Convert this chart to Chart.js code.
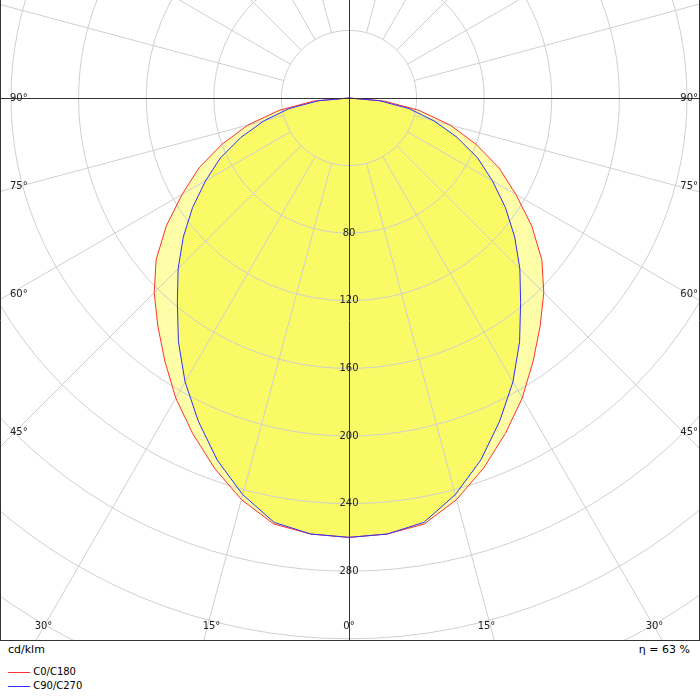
<!DOCTYPE html>
<html><head><meta charset="utf-8">
<script src="https://cdn.jsdelivr.net/npm/chart.js@4.4.0/dist/chart.umd.min.js"></script>
<style>
body{margin:0;background:#fff;font-family:"DejaVu Sans",sans-serif;font-size:10px;color:#000}
#wrap{position:relative;width:700px;height:641px}
.t{position:absolute}
</style></head><body>
<div id="wrap"><canvas id="c" width="700" height="641"></canvas></div>
<div class="t" style="left:8px;top:643px;font-size:11px">cd/klm</div>
<div class="t" style="right:10px;top:643px;font-size:11px">η = 63 %</div>
<div class="t" style="left:8px;top:666px"><span style="display:inline-block;width:22px;border-top:1px solid #ff3030;vertical-align:middle"></span> C0/C180</div>
<div class="t" style="left:8px;top:680px"><span style="display:inline-block;width:22px;border-top:1px solid #3030ff;vertical-align:middle"></span> C90/C270</div>
<script>
// gamma angles (0 = straight down) and intensities in cd/klm
const angles = [0,5,10,15,20,25,30,35,40,45,50,55,60,65,70,75,80,85,90];
const c0 = [260,259,256,246,233,219,205,190,176,163,149,132,114,98,80,62,42,21,0];
const c90 = [260,259,255,243,228,211,194,176,158,143,128,113,98,84,68,52,36,18,0];
const ringValues = [40,80,120,160,200,240,280,320,360,400,440];
const ringLabels = [80,120,160,200,240,280];
const sideLabels = [90,75,60,45];
const bottomLabels = [30,15,0];

const PX = 1.69; // pixels per cd/klm
const toXY = (vals) => {
  const pts = [];
  for (let i = angles.length - 1; i >= 0; i--) {
    const a = -angles[i] * Math.PI / 180;
    pts.push({x: vals[i] * Math.sin(a), y: -vals[i] * Math.cos(a)});
  }
  for (let i = 1; i < angles.length; i++) {
    const a = angles[i] * Math.PI / 180;
    pts.push({x: vals[i] * Math.sin(a), y: -vals[i] * Math.cos(a)});
  }
  return pts;
};

const polarGrid = {
  id: 'polarGrid',
  beforeDatasetsDraw(chart) {
    const {ctx, scales: {x, y}} = chart;
    const cx = x.getPixelForValue(0), cy = y.getPixelForValue(0);
    const fillPoly = (pts, col) => {
      ctx.beginPath();
      pts.forEach((p, i) => {
        const px = x.getPixelForValue(p.x), py = y.getPixelForValue(p.y);
        i ? ctx.lineTo(px, py) : ctx.moveTo(px, py);
      });
      ctx.closePath();
      ctx.fillStyle = col;
      ctx.fill();
    };
    ctx.save();
    fillPoly(chart.data.datasets[1].data, '#fefea8');
    fillPoly(chart.data.datasets[0].data, '#fafa66');
    ctx.strokeStyle = '#cfcfcf';
    ctx.lineWidth = 1;
    ringValues.forEach(v => {
      const r = x.getPixelForValue(v) - cx;
      ctx.beginPath(); ctx.arc(cx, cy, r, 0, Math.PI * 2); ctx.stroke();
    });
    const r0 = x.getPixelForValue(40) - cx;
    for (let a = 0; a < 360; a += 15) {
      if (a % 90 === 0) continue;
      const t = a * Math.PI / 180;
      ctx.beginPath();
      ctx.moveTo(cx + r0 * Math.sin(t), cy + r0 * Math.cos(t));
      ctx.lineTo(cx + 1200 * Math.sin(t), cy + 1200 * Math.cos(t));
      ctx.stroke();
    }
    ctx.restore();
  },
  afterDatasetsDraw(chart) {
    const {ctx, chartArea: ca, scales: {x, y}} = chart;
    const cx = x.getPixelForValue(0), cy = y.getPixelForValue(0);
    ctx.save();
    ctx.strokeStyle = '#333';
    ctx.lineWidth = 1;
    ctx.beginPath();
    ctx.moveTo(ca.left, Math.round(cy) + 0.5); ctx.lineTo(ca.right, Math.round(cy) + 0.5);
    ctx.moveTo(Math.round(cx) + 0.5, ca.top); ctx.lineTo(Math.round(cx) + 0.5, ca.bottom);
    ctx.moveTo(ca.left + 0.5, ca.top); ctx.lineTo(ca.left + 0.5, ca.bottom);
    ctx.moveTo(ca.right - 0.5, ca.top); ctx.lineTo(ca.right - 0.5, ca.bottom);
    ctx.moveTo(ca.left, ca.bottom - 0.5); ctx.lineTo(ca.right, ca.bottom - 0.5);
    ctx.stroke();
    ctx.font = '10px "DejaVu Sans"';
    ctx.fillStyle = '#222';
    ctx.textAlign = 'center';
    ctx.textBaseline = 'middle';
    ringLabels.forEach(v => ctx.fillText(v, cx, y.getPixelForValue(-v)));
    sideLabels.forEach(a => {
      const t = a * Math.PI / 180;
      const py = cy + (cx - ca.left) / Math.tan(t) - (a === 90 ? 0 : a === 45 ? 15 : 5);
      ctx.textAlign = 'left'; ctx.fillText(a + '°', ca.left + 10, py);
      ctx.textAlign = 'right'; ctx.fillText(a + '°', ca.right - 2, py);
    });
    ctx.textAlign = 'center';
    bottomLabels.forEach(a => {
      const t = a * Math.PI / 180;
      const dx = (ca.bottom - cy) * Math.tan(t) - (a ? 8 : 0);
      ctx.fillText(a + '°', cx - dx, ca.bottom - 15);
      if (a) ctx.fillText(a + '°', cx + dx, ca.bottom - 15);
    });
    ctx.restore();
  }
};

new Chart(document.getElementById('c'), {
  type: 'scatter',
  data: {
    datasets: [
      {label: 'C90/C270', data: toXY(c90), showLine: true, borderColor: '#3030ff', borderWidth: 1, pointRadius: 0},
      {label: 'C0/C180', data: toXY(c0), showLine: true, borderColor: '#ff3030', borderWidth: 1, pointRadius: 0}
    ]
  },
  options: {
    responsive: false, animation: false,
    layout: {padding: 0},
    plugins: {legend: {display: false}, tooltip: {enabled: false}},
    scales: {
      x: {display: false, min: -349 / PX, max: 351 / PX},
      y: {display: false, min: -543 / PX, max: 98 / PX}
    }
  },
  plugins: [polarGrid]
});
</script>
</body></html>
